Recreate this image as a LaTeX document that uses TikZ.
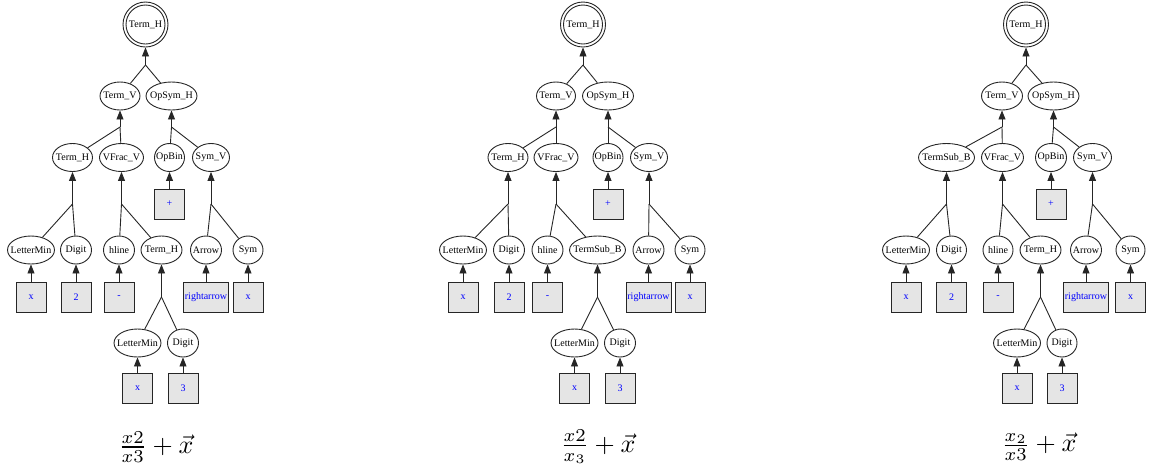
\documentclass[tikz,border=0pt]{standalone}
\usepackage{fontspec}
\newfontfamily\gvfont{Liberation Serif}
\usetikzlibrary{shapes.geometric,arrows.meta}
\definecolor{edgec}{gray}{0.15}
\definecolor{boxfill}{gray}{0.9}
\definecolor{leafblue}{RGB}{0,0,255}
\tikzset{
  el/.style={ellipse, draw=edgec, line width=0.9pt, minimum width=#1, minimum height=28pt,
    inner sep=0pt, inner xsep=-6pt, font=\gvfont\fontsize{10}{11}\selectfont},
  lf/.style={rectangle, draw=edgec, fill=boxfill, line width=0.9pt, minimum width=#1, minimum height=30pt,
    inner sep=0pt, text=leafblue, font=\gvfont\fontsize{10}{11}\selectfont},
  rootout/.style={circle, draw=edgec, line width=0.9pt, minimum size=45pt, inner sep=0pt},
  rootin/.style={circle, draw=edgec, line width=0.9pt, minimum size=39pt, inner sep=0pt, font=\gvfont\fontsize{10}{11}\selectfont},
  ln/.style={draw=edgec, line width=0.9pt},
  ar/.style={ln, -{Triangle[length=9pt,width=7pt]}},
  formula/.style={scale=2.6, inner sep=0pt}
}
\begin{document}
\begin{tikzpicture}[x=1pt,y=-1pt]
\useasboundingbox (0,0) rectangle (1151,475);
% ================= Panel 1 =================
\node[rootout] (aR) at (145.5,24.5) {};
\node[rootin] (aRi) at (aR) {Term\_H};
\node[el=40] (aTV) at (120,96) {Term\_V};
\node[el=51] (aOS) at (171.5,96) {OpSym\_H};
\coordinate (aJ0) at (145.5,65);
\node[el=40] (aTH) at (72.5,157.5) {Term\_H};
\node[el=44] (aVF) at (121.5,157.5) {VFrac\_V};
\node[el=30] (aOB) at (169.5,157.5) {OpBin};
\node[el=37] (aSV) at (211,157.5) {Sym\_V};
\coordinate (aJ1) at (120,127);
\coordinate (aJ2) at (171.5,127);
\node[lf=30] (aPl) at (169.5,204) {+};
\node[el=47] (aLM) at (31,250) {LetterMin};
\node[el=31] (aDG) at (76,250) {Digit};
\node[el=31] (aHL) at (119,250) {hline};
\node[el=41] (aTH2) at (161.5,250) {Term\_H};
\node[el=31] (aAR) at (206,250) {Arrow};
\node[el=30] (aSY) at (248,250) {Sym};
\coordinate (aJ3) at (72.5,204);
\coordinate (aJ4) at (121.5,204);
\coordinate (aJ5) at (211,204);
\node[lf=30] (aB1) at (31,297) {x};
\node[lf=30] (aB2) at (76,297) {2};
\node[lf=30] (aB3) at (119,297) {-};
\node[lf=45] (aB4) at (206,297) {rightarrow};
\node[lf=30] (aB5) at (248,297) {x};
\coordinate (aJ6) at (161.5,297);
\node[el=47] (aLM2) at (137.5,343) {LetterMin};
\node[el=31] (aDG2) at (183,343) {Digit};
\node[lf=30] (aB6) at (137.5,388) {x};
\node[lf=30] (aB7) at (183,388) {3};
\node[formula] (aF) at (156,447) {$\frac{x2}{x3}+\vec{x}$};
\draw[ln] (aTV) -- (aJ0); \draw[ln] (aOS) -- (aJ0); \draw[ar] (aJ0) -- (aR);
\draw[ln] (aTH) -- (aJ1); \draw[ln] (aVF) -- (aJ1); \draw[ar] (aJ1) -- (aTV);
\draw[ln] (aOB) -- (aJ2); \draw[ln] (aSV) -- (aJ2); \draw[ar] (aJ2) -- (aOS);
\draw[ln] (aLM) -- (aJ3); \draw[ln] (aDG) -- (aJ3); \draw[ar] (aJ3) -- (aTH);
\draw[ln] (aHL) -- (aJ4); \draw[ln] (aTH2) -- (aJ4); \draw[ar] (aJ4) -- (aVF);
\draw[ar] (aPl) -- (aOB);
\draw[ln] (aAR) -- (aJ5); \draw[ln] (aSY) -- (aJ5); \draw[ar] (aJ5) -- (aSV);
\draw[ar] (aB1) -- (aLM); \draw[ar] (aB2) -- (aDG); \draw[ar] (aB3) -- (aHL);
\draw[ar] (aB4) -- (aAR); \draw[ar] (aB5) -- (aSY);
\draw[ln] (aLM2) -- (aJ6); \draw[ln] (aDG2) -- (aJ6); \draw[ar] (aJ6) -- (aTH2);
\draw[ar] (aB6) -- (aLM2); \draw[ar] (aB7) -- (aDG2);
% ================= Panel 2 =================
\node[rootout] (bR) at (583,24.5) {};
\node[rootin] (bRi) at (bR) {Term\_H};
\node[el=39] (bTV) at (556,96) {Term\_V};
\node[el=51] (bOS) at (608,96) {OpSym\_H};
\coordinate (bJ0) at (583,65);
\node[el=40] (bTH) at (508,157.5) {Term\_H};
\node[el=44] (bVF) at (556,157.5) {VFrac\_V};
\node[el=30] (bOB) at (608,157.5) {OpBin};
\node[el=37] (bSV) at (649,157.5) {Sym\_V};
\coordinate (bJ1) at (556,127);
\coordinate (bJ2) at (608,127);
\node[lf=30] (bPl) at (608,204) {+};
\node[el=47] (bLM) at (463,250) {LetterMin};
\node[el=31] (bDG) at (509,250) {Digit};
\node[el=31] (bHL) at (547.5,250) {hline};
\node[el=56] (bTS) at (597.5,250) {TermSub\_B};
\node[el=31] (bAR) at (648.5,250) {Arrow};
\node[el=30] (bSY) at (690,250) {Sym};
\coordinate (bJ3) at (508,204);
\coordinate (bJ4) at (556,204);
\coordinate (bJ5) at (649,204);
\node[lf=30] (bB1) at (463,297) {x};
\node[lf=30] (bB2) at (509,297) {2};
\node[lf=30] (bB3) at (547.5,297) {-};
\node[lf=45] (bB4) at (648.5,297) {rightarrow};
\node[lf=30] (bB5) at (690,297) {x};
\coordinate (bJ6) at (597.5,297);
\node[el=47] (bLM2) at (574.5,343) {LetterMin};
\node[el=31] (bDG2) at (620,343) {Digit};
\node[lf=30] (bB6) at (574.5,388) {x};
\node[lf=30] (bB7) at (620,388) {3};
\node[formula] (bF) at (598,447) {$\frac{x2}{x_3}+\vec{x}$};
\draw[ln] (bTV) -- (bJ0); \draw[ln] (bOS) -- (bJ0); \draw[ar] (bJ0) -- (bR);
\draw[ln] (bTH) -- (bJ1); \draw[ln] (bVF) -- (bJ1); \draw[ar] (bJ1) -- (bTV);
\draw[ln] (bOB) -- (bJ2); \draw[ln] (bSV) -- (bJ2); \draw[ar] (bJ2) -- (bOS);
\draw[ln] (bLM) -- (bJ3); \draw[ln] (bDG) -- (bJ3); \draw[ar] (bJ3) -- (bTH);
\draw[ln] (bHL) -- (bJ4); \draw[ln] (bTS) -- (bJ4); \draw[ar] (bJ4) -- (bVF);
\draw[ar] (bPl) -- (bOB);
\draw[ln] (bAR) -- (bJ5); \draw[ln] (bSY) -- (bJ5); \draw[ar] (bJ5) -- (bSV);
\draw[ar] (bB1) -- (bLM); \draw[ar] (bB2) -- (bDG); \draw[ar] (bB3) -- (bHL);
\draw[ar] (bB4) -- (bAR); \draw[ar] (bB5) -- (bSY);
\draw[ln] (bLM2) -- (bJ6); \draw[ln] (bDG2) -- (bJ6); \draw[ar] (bJ6) -- (bTS);
\draw[ar] (bB6) -- (bLM2); \draw[ar] (bB7) -- (bDG2);
% ================= Panel 3 =================
\node[rootout] (cR) at (1026,24.5) {};
\node[rootin] (cRi) at (cR) {Term\_H};
\node[el=41] (cTV) at (1002,96) {Term\_V};
\node[el=51] (cOS) at (1053.5,96) {OpSym\_H};
\coordinate (cJ0) at (1026,65);
\node[el=56] (cTS) at (946.5,157.5) {TermSub\_B};
\node[el=42] (cVF) at (1002.5,157.5) {VFrac\_V};
\node[el=31] (cOB) at (1051,157.5) {OpBin};
\node[el=38] (cSV) at (1092.5,157.5) {Sym\_V};
\coordinate (cJ1) at (1002,127);
\coordinate (cJ2) at (1053.5,127);
\node[lf=30] (cPl) at (1051,204) {+};
\node[el=47] (cLM) at (906,250) {LetterMin};
\node[el=30] (cDG) at (951.5,250) {Digit};
\node[el=30] (cHL) at (998,250) {hline};
\node[el=41] (cTH) at (1040.5,250) {Term\_H};
\node[el=31] (cAR) at (1086,250) {Arrow};
\node[el=29] (cSY) at (1130.5,250) {Sym};
\coordinate (cJ3) at (946.5,204);
\coordinate (cJ4) at (1002.5,204);
\coordinate (cJ5) at (1092.5,204);
\node[lf=30] (cB1) at (906,297) {x};
\node[lf=30] (cB2) at (951.5,297) {2};
\node[lf=30] (cB3) at (998,297) {-};
\node[lf=45] (cB4) at (1086,297) {rightarrow};
\node[lf=30] (cB5) at (1130.5,297) {x};
\coordinate (cJ6) at (1040.5,297);
\node[el=47] (cLM2) at (1017,343) {LetterMin};
\node[el=30] (cDG2) at (1062,343) {Digit};
\node[lf=30] (cB6) at (1017,388) {x};
\node[lf=30] (cB7) at (1062,388) {3};
\node[formula] (cF) at (1039,447) {$\frac{x_2}{x3}+\vec{x}$};
\draw[ln] (cTV) -- (cJ0); \draw[ln] (cOS) -- (cJ0); \draw[ar] (cJ0) -- (cR);
\draw[ln] (cTS) -- (cJ1); \draw[ln] (cVF) -- (cJ1); \draw[ar] (cJ1) -- (cTV);
\draw[ln] (cOB) -- (cJ2); \draw[ln] (cSV) -- (cJ2); \draw[ar] (cJ2) -- (cOS);
\draw[ln] (cLM) -- (cJ3); \draw[ln] (cDG) -- (cJ3); \draw[ar] (cJ3) -- (cTS);
\draw[ln] (cHL) -- (cJ4); \draw[ln] (cTH) -- (cJ4); \draw[ar] (cJ4) -- (cVF);
\draw[ar] (cPl) -- (cOB);
\draw[ln] (cAR) -- (cJ5); \draw[ln] (cSY) -- (cJ5); \draw[ar] (cJ5) -- (cSV);
\draw[ar] (cB1) -- (cLM); \draw[ar] (cB2) -- (cDG); \draw[ar] (cB3) -- (cHL);
\draw[ar] (cB4) -- (cAR); \draw[ar] (cB5) -- (cSY);
\draw[ln] (cLM2) -- (cJ6); \draw[ln] (cDG2) -- (cJ6); \draw[ar] (cJ6) -- (cTH);
\draw[ar] (cB6) -- (cLM2); \draw[ar] (cB7) -- (cDG2);
\end{tikzpicture}
\end{document}
